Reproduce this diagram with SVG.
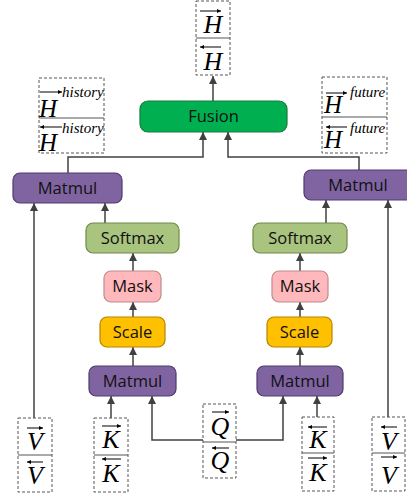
<svg xmlns="http://www.w3.org/2000/svg" width="407" height="495" viewBox="0 0 407 495">
<defs>
<marker id="ah" viewBox="0 0 10 10" refX="10" refY="5" markerWidth="9" markerHeight="8" markerUnits="userSpaceOnUse" orient="auto">
<path d="M0,0 L10,5 L0,10 z" fill="#404040"/>
</marker>
<marker id="sa" viewBox="0 0 10 10" refX="10" refY="5" markerWidth="5" markerHeight="4" markerUnits="userSpaceOnUse" orient="auto">
<path d="M0,0 L10,5 L0,10 z" fill="#000"/>
</marker>
<style>
.box{stroke-width:1.2}
.mat{fill:#8064A2;stroke:#4F3A6E}
.soft{fill:#A9C47F;stroke:#6E8A48}
.mask{fill:#FFB9BC;stroke:#C08A8C}
.scale{fill:#FFC000;stroke:#B38600}
.fus{fill:#00B050;stroke:#1A7A3C}
.lbl{font-family:"Open Sans",sans-serif;font-size:16.5px;fill:#111;text-anchor:middle}
.dash{fill:#fff;stroke:#555;stroke-width:1;stroke-dasharray:3,2}
.div{stroke:#555;stroke-width:1}
.m{font-family:"Liberation Serif",serif;font-style:italic;fill:#000}
.sup{font-family:"Liberation Serif",serif;font-style:italic;font-size:15px;fill:#000}
.va{stroke:#000;stroke-width:1;marker-end:url(#sa)}
.c{fill:none;stroke:#404040;stroke-width:1.5}
</style>
</defs>

<g id="connectors">
<line class="c" x1="213" y1="101" x2="213" y2="76" marker-end="url(#ah)"/>
<polyline class="c" points="68,173 68,157 203,157 203,132" marker-end="url(#ah)"/>
<polyline class="c" points="359,170 359,157 228,157 228,132" marker-end="url(#ah)"/>
<line class="c" x1="34" y1="418" x2="34" y2="203" marker-end="url(#ah)"/>
<line class="c" x1="105" y1="223" x2="105" y2="203" marker-end="url(#ah)"/>
<line class="c" x1="133" y1="271" x2="133" y2="253" marker-end="url(#ah)"/>
<line class="c" x1="133" y1="317" x2="133" y2="302" marker-end="url(#ah)"/>
<line class="c" x1="133" y1="366" x2="133" y2="347" marker-end="url(#ah)"/>
<line class="c" x1="111" y1="418" x2="111" y2="396" marker-end="url(#ah)"/>
<polyline class="c" points="203,440 152,440 152,396" marker-end="url(#ah)"/>
<polyline class="c" points="236,440 283,440 283,396" marker-end="url(#ah)"/>
<line class="c" x1="317" y1="417" x2="317" y2="396" marker-end="url(#ah)"/>
<line class="c" x1="326" y1="223" x2="326" y2="200" marker-end="url(#ah)"/>
<line class="c" x1="300" y1="271" x2="300" y2="253" marker-end="url(#ah)"/>
<line class="c" x1="300" y1="317" x2="300" y2="302" marker-end="url(#ah)"/>
<line class="c" x1="300" y1="366" x2="300" y2="347" marker-end="url(#ah)"/>
<line class="c" x1="388" y1="417" x2="388" y2="200" marker-end="url(#ah)"/>
</g>

<g id="fusion">
<rect class="box fus" x="140" y="101" width="147" height="31" rx="8"/>
<text class="lbl" x="213.5" y="122">Fusion</text>
</g>
<g id="matmul-left">
<rect class="box mat" x="13" y="173" width="109" height="30" rx="7"/>
<text class="lbl" x="67.5" y="194">Matmul</text>
</g>
<g id="softmax-left">
<rect class="box soft" x="86" y="223" width="93" height="30" rx="7"/>
<text class="lbl" x="132.5" y="244">Softmax</text>
</g>
<g id="mask-left">
<rect class="box mask" x="104" y="271" width="57" height="31" rx="7"/>
<text class="lbl" x="132.5" y="292">Mask</text>
</g>
<g id="scale-left">
<rect class="box scale" x="100" y="317" width="65" height="30" rx="7"/>
<text class="lbl" x="132.5" y="338">Scale</text>
</g>
<g id="matmul-left-bottom">
<rect class="box mat" x="89" y="366" width="87" height="30" rx="7"/>
<text class="lbl" x="132.5" y="387">Matmul</text>
</g>
<g id="matmul-right">
<rect class="box mat" x="304" y="170" width="110" height="30" rx="7"/>
<text class="lbl" x="358" y="191">Matmul</text>
</g>
<g id="softmax-right">
<rect class="box soft" x="253" y="223" width="94" height="30" rx="7"/>
<text class="lbl" x="300" y="244">Softmax</text>
</g>
<g id="mask-right">
<rect class="box mask" x="272" y="271" width="56" height="31" rx="7"/>
<text class="lbl" x="300" y="292">Mask</text>
</g>
<g id="scale-right">
<rect class="box scale" x="267" y="317" width="65" height="30" rx="7"/>
<text class="lbl" x="299.5" y="338">Scale</text>
</g>
<g id="matmul-right-bottom">
<rect class="box mat" x="257" y="366" width="86" height="30" rx="7"/>
<text class="lbl" x="300" y="387">Matmul</text>
</g>

<g id="h-out">
<rect class="dash" x="196" y="1" width="34" height="74"/>
<line class="div" x1="196" y1="38" x2="230" y2="38"/>
<line class="va" x1="200" y1="11" x2="221" y2="11"/>
<text class="m" x="213" y="33" font-size="26" text-anchor="middle">H</text>
<line class="va" x1="221" y1="47" x2="200" y2="47"/>
<text class="m" x="213" y="70" font-size="26" text-anchor="middle">H</text>
</g>

<g id="h-history">
<rect class="dash" x="39" y="78" width="65" height="75"/>
<line class="div" x1="39" y1="118" x2="104" y2="118"/>
<line class="va" x1="40" y1="92" x2="62" y2="92"/>
<text class="m" x="39" y="117" font-size="25">H</text>
<text class="sup" x="62" y="97">history</text>
<line class="va" x1="62" y1="127" x2="40" y2="127"/>
<text class="m" x="39" y="151" font-size="25">H</text>
<text class="sup" x="62" y="133">history</text>
</g>

<g id="h-future">
<rect class="dash" x="322" y="77" width="65" height="76"/>
<line class="div" x1="322" y1="117" x2="387" y2="117"/>
<line class="va" x1="326" y1="93" x2="347" y2="93"/>
<text class="m" x="324" y="113" font-size="25">H</text>
<text class="sup" x="350" y="97">future</text>
<line class="va" x1="347" y1="127" x2="326" y2="127"/>
<text class="m" x="324" y="148" font-size="25">H</text>
<text class="sup" x="350" y="133">future</text>
</g>

<g id="v-left">
<rect class="dash" x="18" y="418" width="34" height="74"/>
<line class="div" x1="18" y1="455" x2="52" y2="455"/>
<line class="va" x1="27" y1="428" x2="43" y2="428"/>
<text class="m" x="35" y="450" font-size="26" text-anchor="middle">V</text>
<line class="va" x1="43" y1="462" x2="27" y2="462"/>
<text class="m" x="35" y="484" font-size="26" text-anchor="middle">V</text>
</g>

<g id="k-left">
<rect class="dash" x="94" y="418" width="34" height="74"/>
<line class="div" x1="94" y1="455" x2="128" y2="455"/>
<line class="va" x1="102" y1="426" x2="121" y2="426"/>
<text class="m" x="111" y="448" font-size="26" text-anchor="middle">K</text>
<line class="va" x1="121" y1="459" x2="102" y2="459"/>
<text class="m" x="111" y="482" font-size="26" text-anchor="middle">K</text>
</g>

<g id="q">
<rect class="dash" x="203" y="404" width="33" height="74"/>
<line class="div" x1="203" y1="442" x2="236" y2="442"/>
<line class="va" x1="212" y1="412" x2="229" y2="412"/>
<text class="m" x="220" y="435" font-size="26" text-anchor="middle">Q</text>
<line class="va" x1="229" y1="448" x2="212" y2="448"/>
<text class="m" x="220" y="469" font-size="26" text-anchor="middle">Q</text>
</g>

<g id="k-right">
<rect class="dash" x="302" y="417" width="32" height="74"/>
<line class="div" x1="302" y1="453" x2="334" y2="453"/>
<line class="va" x1="327" y1="427" x2="308" y2="427"/>
<text class="m" x="318" y="448" font-size="26" text-anchor="middle">K</text>
<line class="va" x1="308" y1="458" x2="327" y2="458"/>
<text class="m" x="318" y="481" font-size="26" text-anchor="middle">K</text>
</g>

<g id="v-right">
<rect class="dash" x="372" y="417" width="33" height="74"/>
<line class="div" x1="372" y1="453" x2="405" y2="453"/>
<line class="va" x1="397" y1="427" x2="381" y2="427"/>
<text class="m" x="389" y="450" font-size="26" text-anchor="middle">V</text>
<line class="va" x1="381" y1="457" x2="397" y2="457"/>
<text class="m" x="389" y="484" font-size="26" text-anchor="middle">V</text>
</g>
</svg>
